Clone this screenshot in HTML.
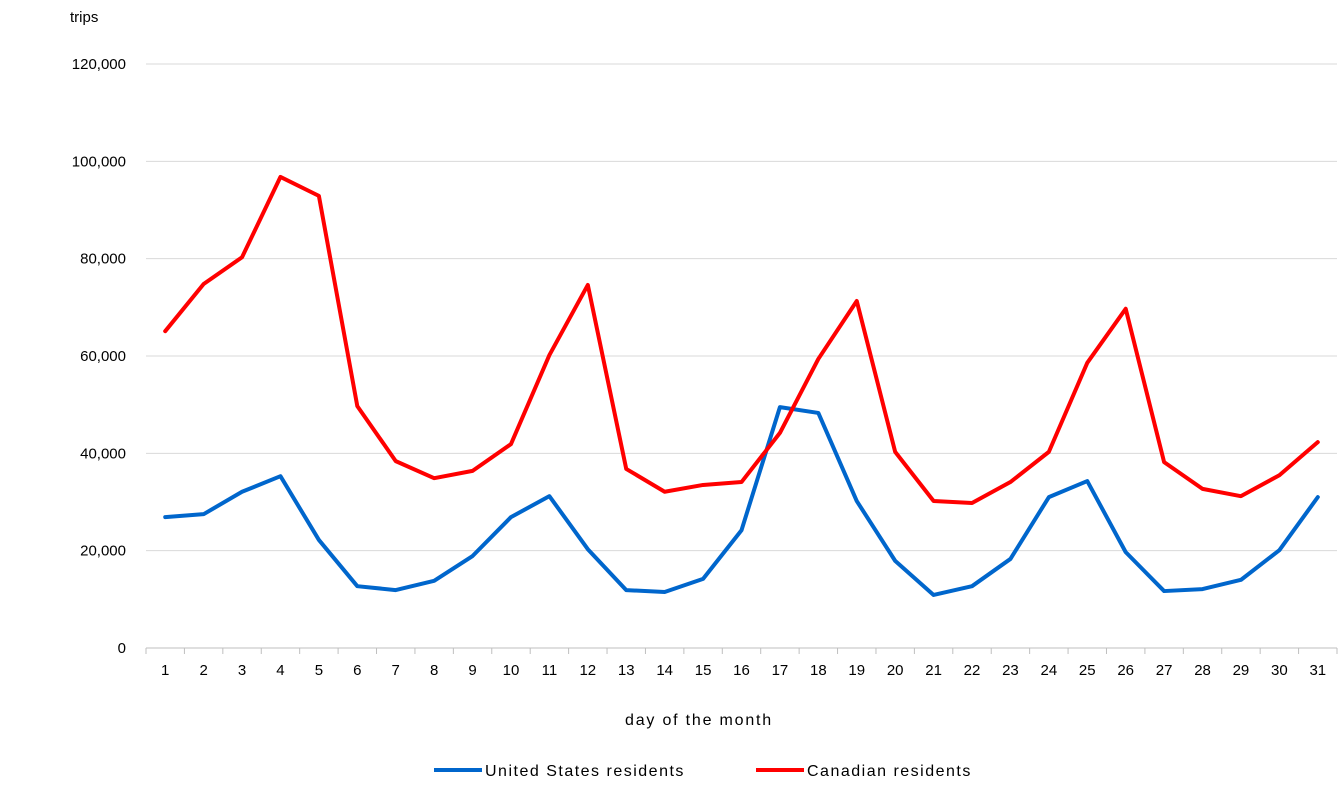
<!DOCTYPE html>
<html><head><meta charset="utf-8">
<style>
body{margin:0;background:#fff;width:1341px;height:785px;overflow:hidden;font-family:"Liberation Sans",sans-serif;}
svg text{font-family:"Liberation Sans",sans-serif;font-size:15px;fill:#000;}
svg text.leg{font-size:16px;letter-spacing:1.5px;}
svg text.xt{font-size:16px;letter-spacing:1.8px;}
</style></head>
<body>
<svg id="chart" width="1341" height="785" xmlns="http://www.w3.org/2000/svg">
<text x="70" y="22">trips</text>
<g id="grid"></g><g id="yticks"></g><g id="xticks"></g><g id="lines"></g>
<text class="xt" x="699" y="725" text-anchor="middle">day of the month</text>
<g>
<g><line x1="434" y1="770" x2="482" y2="770" stroke="#0066cc" stroke-width="4"/><text class="leg" x="485" y="776">United States residents</text></g>
<g><line x1="756" y1="770" x2="804" y2="770" stroke="#ff0000" stroke-width="4"/><text class="leg" x="807" y="776">Canadian residents</text></g>
</g>
</svg>
<script>
const days=[1,2,3,4,5,6,7,8,9,10,11,12,13,14,15,16,17,18,19,20,21,22,23,24,25,26,27,28,29,30,31];
const usResidents=[26900,27500,32100,35300,22200,12700,11900,13800,18900,26900,31200,20300,11900,11500,14200,24200,49500,48300,30200,17900,10900,12700,18300,31000,34300,19700,11700,12100,14000,20100,31000];
const canadianResidents=[65100,74800,80300,96800,92900,49700,38400,34900,36400,41900,60200,74600,36800,32100,33500,34100,44200,59400,71300,40300,30200,29800,34100,40300,58600,69700,38200,32700,31200,35500,42300];
const yTicks=[0,20000,40000,60000,80000,100000,120000];
const NS="http://www.w3.org/2000/svg";
const x0=146,x1=1337,y0=648,yTop=64;
const step=(x1-x0)/days.length;
const xs=d=>x0+step*(d-0.5);
const ys=v=>y0-(v/120000)*(y0-yTop);
function mk(tag,attrs,parent){const e=document.createElementNS(NS,tag);for(const k in attrs)e.setAttribute(k,attrs[k]);document.getElementById(parent).appendChild(e);return e;}
yTicks.forEach(t=>{
  const l=mk('line',{x1:x0,x2:x1,y1:ys(t),y2:ys(t),stroke:t===0?'#bfbfbf':'#d9d9d9','stroke-width':1},'grid');
  
  
  const tx=mk('text',{x:126,y:ys(t)+5,'text-anchor':'end'},'yticks');
  tx.textContent=t.toLocaleString('en-US');
  
  
});
for(let i=0;i<=days.length;i++){
  const l=mk('line',{x1:x0+step*i,x2:x0+step*i,y1:y0,y2:y0+6,stroke:'#bfbfbf'},'xticks');
  
  
}
days.forEach(d=>{
  const tx=mk('text',{x:xs(d),y:y0+27,'text-anchor':'middle'},'xticks');
  tx.textContent=d;
  
  
});
function line(vals,color,name){
  const p=mk('polyline',{points:vals.map((v,i)=>xs(days[i])+','+ys(v)).join(' '),fill:'none',stroke:color,'stroke-width':4,'stroke-linejoin':'round','stroke-linecap':'round'},'lines');
  
  
}
line(usResidents,'#0066cc','us-residents-line');
line(canadianResidents,'#ff0000','canadian-residents-line');
</script>
</body></html>
